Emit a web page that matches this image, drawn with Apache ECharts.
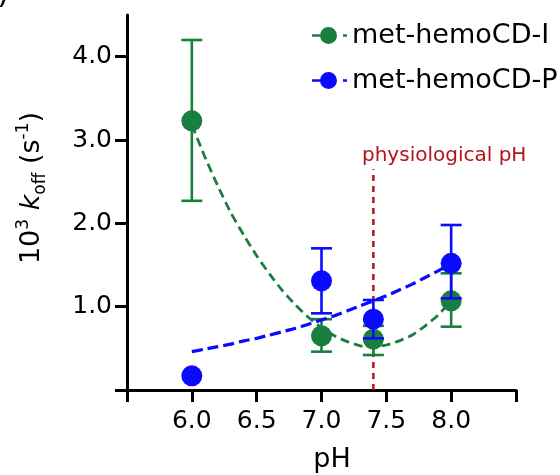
<!DOCTYPE html>
<html>
<head>
<meta charset="utf-8">
<script src="https://cdn.jsdelivr.net/npm/echarts@6/dist/echarts.min.js"></script>
<style>html,body{margin:0;padding:0;background:#fff;}#c{width:560px;height:475px;}</style>
</head>
<body>
<div id="c"></div>
<script>
// ---- data ----
const pHValues = [6.0, 7.0, 7.4, 8.0];
const hemoIMean = [3.23, 0.65, 0.61, 1.07];
const hemoILow  = [2.27, 0.46, 0.42, 0.76];
const hemoIHigh = [4.20, 0.85, 0.77, 1.40];
const hemoPMean = [0.17, 1.31, 0.85, 1.52];
const hemoPLow  = [null, 0.92, 0.62, 1.10];
const hemoPHigh = [null, 1.70, 1.08, 1.98];
const fitPH    = [6.0, 6.1, 6.2, 6.3, 6.4, 6.5, 6.6, 6.7, 6.8, 6.9, 7.0, 7.1, 7.2, 7.3, 7.4, 7.5, 7.6, 7.7, 7.8, 7.9, 8.0];
const hemoIFit = [3.18, 2.80, 2.45, 2.13, 1.86, 1.61, 1.39, 1.19, 1.02, 0.87, 0.75, 0.65, 0.58, 0.53, 0.52, 0.54, 0.59, 0.66, 0.77, 0.90, 1.07];
const hemoPFit = [0.46, 0.49, 0.52, 0.55, 0.59, 0.62, 0.66, 0.70, 0.74, 0.79, 0.84, 0.89, 0.95, 1.01, 1.07, 1.13, 1.20, 1.27, 1.35, 1.43, 1.52];
const physPH = 7.4;
const physRange = [0, 2.65];
const seriesNames = ['met-hemoCD-I', 'met-hemoCD-P'];
const xTickValues = [5.5, 6.0, 6.5, 7.0, 7.5, 8.0, 8.5];
const xLabelValues = [6.0, 6.5, 7.0, 7.5, 8.0];
const yTickValues = [0, 1, 2, 3, 4];
const yLabelValues = [1, 2, 3, 4];

const GREEN = '#1a7f3e', BLUE = '#0a0aff', RED = '#b0161c';
const FONT = 'DejaVu Sans';

const pairs = (xs, ys) => xs.map((x, i) => [x, ys[i]]);
const errData = (lo, hi) => pHValues.map((x, i) => lo[i] == null ? null : [x, lo[i], hi[i]]).filter(d => d);

function errRender(color) {
  return function (params, api) {
    const x = api.value(0);
    const pLo = api.coord([x, api.value(1)]);
    const pHi = api.coord([x, api.value(2)]);
    const hw = 10.5;
    const st = { stroke: color, lineWidth: 2.6 };
    return { type: 'group', children: [
      { type: 'line', shape: { x1: pLo[0], y1: pLo[1], x2: pHi[0], y2: pHi[1] }, style: st },
      { type: 'line', shape: { x1: pHi[0] - hw, y1: pHi[1], x2: pHi[0] + hw, y2: pHi[1] }, style: st },
      { type: 'line', shape: { x1: pLo[0] - hw, y1: pLo[1], x2: pLo[0] + hw, y2: pLo[1] }, style: st }
    ]};
  };
}

const iconPath = 'path://M0,7.3 L10,7.3 L10,9.7 L0,9.7 Z M8,8.5 A8.5,8.5 0 1 1 25,8.5 A8.5,8.5 0 1 1 8,8.5 Z M31,7.3 L35,7.3 L35,9.7 L31,9.7 Z';

const chart = echarts.init(document.getElementById('c'), null, { renderer: 'canvas' });
chart.setOption({
  animation: false,
  backgroundColor: '#fff',
  textStyle: { fontFamily: FONT },
  grid: { left: 127, right: 44, top: 15, bottom: 85, containLabel: false },
  legend: {
    orient: 'vertical', left: 307, top: 17, itemWidth: 35, itemHeight: 17, itemGap: 18,
    textStyle: { fontFamily: FONT, fontSize: 27, color: '#000', padding: [0, 0, 0, 0] },
    data: [
      { name: seriesNames[0], icon: iconPath, itemStyle: { color: GREEN, borderWidth: 0 } },
      { name: seriesNames[1], icon: iconPath, itemStyle: { color: BLUE, borderWidth: 0 } }
    ]
  },
  xAxis: {
    type: 'value', min: 5.5, max: 8.5, interval: 0.5,
    axisLine: { lineStyle: { color: '#000', width: 3 } },
    axisTick: { length: 12, customValues: xTickValues, lineStyle: { color: '#000', width: 3 } },
    axisLabel: { fontFamily: FONT, fontSize: 25, color: '#000', margin: 19, customValues: xLabelValues,
      formatter: v => v.toFixed(1) },
    splitLine: { show: false }
  },
  yAxis: {
    type: 'value', min: 0, max: 4.5, interval: 1,
    axisLine: { show: true, lineStyle: { color: '#000', width: 3 } },
    axisTick: { show: true, length: 12, customValues: yTickValues, lineStyle: { color: '#000', width: 3 } },
    axisLabel: { fontFamily: FONT, fontSize: 25, color: '#000', margin: 15, customValues: yLabelValues,
      formatter: v => v.toFixed(1) },
    splitLine: { show: false }
  },
  graphic: [
    { type: 'text', x: 32, y: 188, rotation: Math.PI / 2,
      style: { text: '{n|10}{sup|3}{n| }{it|k}{sub|off}{n| (s}{sup|-1}{n|)}', align: 'center', verticalAlign: 'middle',
        rich: {
          n:   { fontFamily: FONT, fontSize: 27, fill: '#000', lineHeight: 34 },
          it:  { fontFamily: FONT, fontSize: 27, fontStyle: 'italic', fill: '#000', lineHeight: 34 },
          sup: { fontFamily: FONT, fontSize: 17, fill: '#000', verticalAlign: 'top' },
          sub: { fontFamily: FONT, fontSize: 17, fill: '#000', verticalAlign: 'bottom' }
        } } },
    { type: 'text', x: 332, y: 460, style: { text: 'pH', fontFamily: FONT, fontSize: 27, fill: '#000', align: 'center', verticalAlign: 'middle' } },
    { type: 'text', x: 362, y: 156, style: { text: 'physiological pH', fontFamily: FONT, fontSize: 20, fill: RED, align: 'left', verticalAlign: 'middle' } },
    { type: 'text', x: 9, y: 10, style: { text: ')', fontFamily: FONT, fontSize: 30, fill: '#000', align: 'right', verticalAlign: 'bottom' } }
  ],
  series: [
    { name: 'physiological', type: 'line', data: [[physPH, physRange[0]], [physPH, physRange[1]]], symbol: 'none',
      lineStyle: { color: RED, width: 2.5, type: [6, 5] }, z: 1 },
    { name: seriesNames[0], type: 'line', color: GREEN, data: pairs(fitPH, hemoIFit), symbol: 'none', smooth: 0.2,
      lineStyle: { color: GREEN, width: 2.8, type: [9, 5] }, z: 2 },
    { name: seriesNames[0], type: 'custom', color: GREEN, renderItem: errRender(GREEN), data: errData(hemoILow, hemoIHigh), z: 3 },
    { name: seriesNames[0], type: 'scatter', color: GREEN, data: pairs(pHValues, hemoIMean), symbolSize: 21,
      itemStyle: { color: GREEN, opacity: 1 }, z: 4 },
    { name: seriesNames[1], type: 'custom', color: BLUE, renderItem: errRender(BLUE), data: errData(hemoPLow, hemoPHigh), z: 5 },
    { name: seriesNames[1], type: 'scatter', color: BLUE, data: pairs(pHValues, hemoPMean), symbolSize: 21,
      itemStyle: { color: BLUE, opacity: 1 }, z: 6 },
    { name: seriesNames[1], type: 'line', color: BLUE, data: pairs(fitPH, hemoPFit), symbol: 'none', smooth: 0.2,
      lineStyle: { color: BLUE, width: 3.2, type: [11, 5] }, z: 7 }
  ]
});
</script>
</body>
</html>
